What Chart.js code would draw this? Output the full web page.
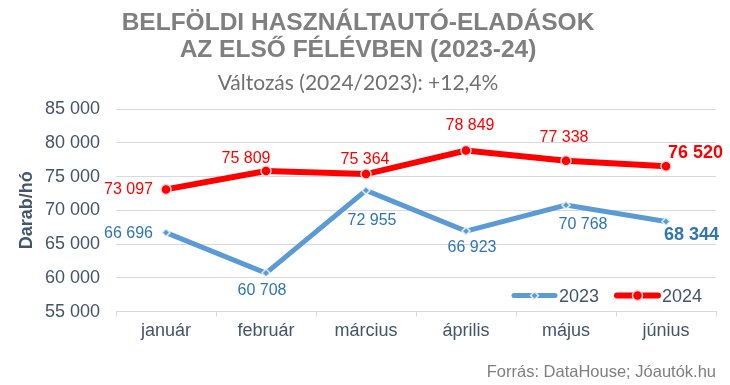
<!DOCTYPE html>
<html>
<head>
<meta charset="utf-8">
<script src="https://cdn.jsdelivr.net/npm/chart.js@4.4.1/dist/chart.umd.min.js"></script>
<style>
  html, body { margin: 0; padding: 0; background: #ffffff; }
  #wrap { width: 730px; height: 385px; }
</style>
</head>
<body>
<div id="wrap"><canvas id="c" width="730" height="385"></canvas></div>
<script>
// ---- data ----
const categories = ['január', 'február', 'március', 'április', 'május', 'június'];
const seriesNames = ['2023', '2024'];
const sales2023 = [66696, 60708, 72955, 66923, 70768, 68344];
const sales2024 = [73097, 75809, 75364, 78849, 77338, 76520];
const yTicks = [55000, 60000, 65000, 70000, 75000, 80000, 85000];
const titleLines = ['BELFÖLDI HASZNÁLTAUTÓ-ELADÁSOK', 'AZ ELSŐ FÉLÉVBEN (2023-24)'];
const subtitleText = 'Változás (2024/2023): +12,4%';
const yAxisLabel = 'Darab/hó';
const sourceText = 'Forrás: DataHouse; Jóautók.hu';

// ---- styling ----
const FONT = '"Liberation Sans", Arial, sans-serif';
const AXIS_COLOR = '#44546a';
const BLUE = '#5b9bd5';
const BLUE_TEXT = '#2e75b6';
const RED = '#ff0000';
const GRID = '#d9d9d9';

function fmt(n) { return String(n).replace(/\B(?=(\d{3})+(?!\d))/g, ' '); }

// label placement relative to each point (dx, dy in px, alignment)
const labelPlacement = [
  [ {dx:-13,dy:1,align:'right'}, {dx:-4,dy:18,align:'center'}, {dx:6,dy:30,align:'center'},
    {dx:6,dy:16,align:'center'}, {dx:17,dy:19,align:'center'}, {dx:-2,dy:14,align:'left',bold:true} ],
  [ {dx:-13,dy:0,align:'right'}, {dx:-20,dy:-13,align:'center'}, {dx:-1,dy:-15,align:'center'},
    {dx:4,dy:-25,align:'center'}, {dx:-2,dy:-23,align:'center'}, {dx:2,dy:-13,align:'left',bold:true} ]
];

const valueLabels = {
  id: 'valueLabels',
  afterDatasetsDraw(chart) {
    const ctx = chart.ctx;
    const colors = [BLUE_TEXT, RED];
    chart.data.datasets.forEach((ds, di) => {
      const meta = chart.getDatasetMeta(di);
      meta.data.forEach((pt, i) => {
        const p = labelPlacement[di][i];
        ctx.save();
        ctx.font = (p.bold ? 'bold 18px ' : '16px ') + FONT;
        ctx.fillStyle = colors[di];
        ctx.textAlign = p.align;
        ctx.textBaseline = 'middle';
        ctx.fillText(fmt(ds.data[i]), pt.x + p.dx, pt.y + p.dy);
        ctx.restore();
      });
    });
  }
};

const customLegend = {
  id: 'customLegend',
  afterDatasetsDraw(chart) {
    const ctx = chart.ctx;
    const area = chart.chartArea;
    const y = area.bottom - 16;
    const items = chart.data.datasets;
    const starts = [area.right - 204, area.right - 101];
    items.forEach((ds, i) => {
      const x0 = starts[i];
      const x1 = x0 + 45;
      ctx.save();
      ctx.strokeStyle = ds.borderColor;
      ctx.lineWidth = ds.borderWidth;
      ctx.lineCap = 'round';
      ctx.beginPath();
      ctx.moveTo(x0 + 2, y);
      ctx.lineTo(x1 - 2, y);
      ctx.stroke();
      const cx = (x0 + x1) / 2;
      ctx.fillStyle = ds.pointBackgroundColor;
      ctx.strokeStyle = ds.pointBorderColor;
      ctx.lineWidth = ds.pointBorderWidth;
      ctx.beginPath();
      if (ds.pointStyle === 'rectRot') {
        const r = ds.pointRadius;
        ctx.moveTo(cx, y - r); ctx.lineTo(cx + r, y); ctx.lineTo(cx, y + r); ctx.lineTo(cx - r, y); ctx.closePath();
      } else {
        ctx.arc(cx, y, ds.pointRadius, 0, Math.PI * 2);
      }
      ctx.fill();
      ctx.stroke();
      ctx.font = '18px ' + FONT;
      ctx.fillStyle = AXIS_COLOR;
      ctx.textAlign = 'left';
      ctx.textBaseline = 'middle';
      ctx.fillText(ds.label, x1 + 2, y + 1);
      ctx.restore();
    });
  }
};

new Chart(document.getElementById('c'), {
  type: 'line',
  data: {
    labels: categories,
    datasets: [
      {
        label: seriesNames[0],
        data: sales2023,
        borderColor: BLUE,
        backgroundColor: BLUE,
        borderWidth: 5,
        pointStyle: 'rectRot',
        pointRadius: 4,
        pointBackgroundColor: BLUE,
        pointBorderColor: 'rgba(235,242,250,0.9)',
        pointBorderWidth: 1.5,
        tension: 0
      },
      {
        label: seriesNames[1],
        data: sales2024,
        borderColor: RED,
        backgroundColor: RED,
        borderWidth: 6,
        pointStyle: 'circle',
        pointRadius: 5,
        pointBackgroundColor: RED,
        pointBorderColor: 'rgba(255,215,215,0.95)',
        pointBorderWidth: 1.5,
        tension: 0
      }
    ]
  },
  options: {
    responsive: false,
    animation: false,
    devicePixelRatio: 1,
    layout: { padding: { left: 0, right: 14, top: 0, bottom: 0 } },
    plugins: {
      legend: { display: false },
      tooltip: { enabled: false },
      title: {
        display: true,
        text: titleLines,
        color: '#7f7f7f',
        font: { family: FONT, size: 24.5, weight: 'bold', lineHeight: 1.1 },
        padding: { top: 10, bottom: 7 }
      },
      subtitle: {
        display: true,
        text: subtitleText,
        color: '#707070',
        font: { family: 'Lato, "Open Sans", sans-serif', size: 21, lineHeight: 1.15 },
        padding: { top: 0, bottom: 14 }
      }
    },
    scales: {
      x: {
        offset: true,
        grid: { display: true, drawOnChartArea: false, drawTicks: true, tickLength: 5, color: GRID, offset: true },
        border: { display: true, color: GRID, width: 1 },
        ticks: { color: AXIS_COLOR, font: { family: FONT, size: 18 }, padding: 4, maxRotation: 0 },
        title: {
          display: true,
          text: sourceText,
          align: 'end',
          color: '#7f7f7f',
          font: { family: FONT, size: 16.5 },
          padding: { top: 16, bottom: 3 }
        }
      },
      y: {
        min: 55000,
        max: 85000,
        afterBuildTicks(scale) { scale.ticks = yTicks.map(v => ({ value: v })); },
        afterFit(scale) { scale.width = 116; },
        grid: { color: GRID, drawTicks: false, lineWidth: 1 },
        border: { display: false },
        ticks: { color: AXIS_COLOR, font: { family: FONT, size: 18 }, padding: 16, callback: v => fmt(v) },
        title: {
          display: true,
          text: yAxisLabel,
          color: AXIS_COLOR,
          font: { family: FONT, size: 18, weight: 'bold' },
          padding: { top: 16, bottom: 0 }
        }
      }
    }
  },
  plugins: [valueLabels, customLegend]
});
</script>
</body>
</html>
